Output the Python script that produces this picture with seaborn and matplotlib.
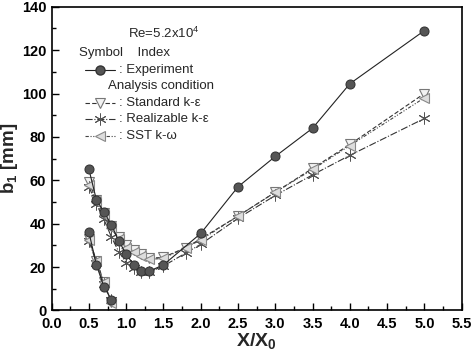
# b1 vs X/X0: experiment vs three turbulence models
import numpy as np
import pandas as pd
import seaborn as sns
import matplotlib.pyplot as plt
from matplotlib.lines import Line2D
from matplotlib.ticker import MultipleLocator

# experiment, upper (main) branch and lower (short) branch
x_exp_main = [0.5, 0.6, 0.7, 0.8, 0.9, 1.0, 1.1, 1.2, 1.3, 1.5, 2.0, 2.5, 3.0, 3.5, 4.0, 5.0]
exp_main = [65, 51, 45.5, 39.5, 32, 26, 21, 18, 18, 21, 35.5, 57, 71, 84, 104.5, 129]
x_exp_low = [0.5, 0.6, 0.7, 0.8]
exp_low = [36, 21, 11, 5]

# simulations
x_sim_main = [0.5, 0.6, 0.7, 0.8, 0.9, 1.0, 1.1, 1.2, 1.3, 1.5, 1.8, 2.0, 2.5, 3.0, 3.5, 4.0, 5.0]
standard_main = [59, 51, 45, 39, 34, 30, 28, 26, 24, 24.5, 29, 33, 43.5, 54.5, 65.5, 76.5, 100]
realizable_main = [57, 49, 42, 34, 27, 22, 19.5, 17.5, 17.5, 20.5, 26.5, 30.5, 42.5, 53, 62.5, 71.5, 88.5]
sst_main = [58, 50, 44, 38, 33, 29, 27, 25, 23.5, 24, 29, 32.5, 43.5, 54.5, 65, 76, 98]
x_sim_low = [0.5, 0.6, 0.7, 0.8]
standard_low = [33, 23, 13, 4]
realizable_low = [32, 22, 12, 5]
sst_low = [32.5, 23, 13, 3.5]

x_ticks = np.arange(0, 5.51, 0.5)
y_ticks = np.arange(0, 141, 20)

sns.set_style("ticks")
plt.rcParams['font.family'] = ['Liberation Sans', 'DejaVu Sans']
plt.rcParams['mathtext.fontset'] = 'custom'
plt.rcParams['mathtext.rm'] = 'Liberation Sans'
plt.rcParams['mathtext.it'] = 'Liberation Sans:italic'
plt.rcParams['mathtext.bf'] = 'Liberation Sans:bold'

fig = plt.figure(figsize=(4.72, 3.56), dpi=100)
ax = fig.add_axes([0.1095, 0.128, 0.8685, 0.853])

styles = {
    'exp': dict(color='#222222', linestyle='-', linewidth=0.8, marker='o', markersize=6.5,
                markerfacecolor='#555555', markeredgecolor='#333333'),
    'std': dict(color='#333333', linestyle=(0, (4, 2)), linewidth=0.8, marker='v', markersize=7.5,
                markerfacecolor='#f2f2f2', markeredgecolor='#777777', markeredgewidth=0.8),
    'rea': dict(color='#333333', linestyle='-.', linewidth=0.8, marker=(6, 2, 0), markersize=8.5,
                markeredgecolor='#555555', markeredgewidth=0.7),
    'sst': dict(color='#444444', linestyle=(0, (3, 1.5, 1, 1.5, 1, 1.5)), linewidth=0.8, marker='<',
                markersize=7.5, markerfacecolor='#dddddd', markeredgecolor='#888888', markeredgewidth=0.8),
}

series = [
    ('std', x_sim_main, standard_main), ('std', x_sim_low, standard_low),
    ('rea', x_sim_main, realizable_main), ('rea', x_sim_low, realizable_low),
    ('sst', x_sim_main, sst_main), ('sst', x_sim_low, sst_low),
    ('exp', x_exp_main, exp_main), ('exp', x_exp_low, exp_low),
]
for key, xs, ys in series:
    df = pd.DataFrame({'x': xs, 'y': ys})
    sns.lineplot(data=df, x='x', y='y', sort=False, estimator=None, ax=ax, **styles[key])

ax.set_xlim(0, 5.5)
ax.set_ylim(0, 140)
ax.set_xticks(x_ticks)
ax.set_xticklabels([f'{v:.1f}' for v in x_ticks], fontweight='bold')
ax.set_yticks(y_ticks)
ax.set_yticklabels([f'{v:d}' for v in y_ticks], fontweight='bold')
ax.xaxis.set_minor_locator(MultipleLocator(0.25))
ax.yaxis.set_minor_locator(MultipleLocator(10))
ax.tick_params(which='both', direction='in', top=False, right=False, width=1, colors='black')
ax.tick_params(which='major', length=5, labelsize=10.5)
ax.tick_params(axis='x', which='major', pad=5)
ax.tick_params(axis='y', which='major', pad=4)
ax.tick_params(which='minor', length=3)
for sp in ax.spines.values():
    sp.set_linewidth(1.2)
    sp.set_color('black')

ax.set_xlabel(r'$\mathbf{X/X_0}$', fontsize=14, labelpad=0)
ax.set_ylabel(r'$\mathbf{b_1}$ [mm]', fontsize=13.5, fontweight='bold', labelpad=1)

# legend block
fs = 9.5
ax.text(0.186, 0.913, r'Re=5.2x10$^4$', transform=ax.transAxes, fontsize=fs, va='center')
ax.text(0.067, 0.848, 'Symbol    Index', transform=ax.transAxes, fontsize=fs, va='center')
ax.text(0.138, 0.739, 'Analysis condition', transform=ax.transAxes, fontsize=fs, va='center')
entries = [('exp', 0.792, ': Experiment'), ('std', 0.683, ': Standard k-ε'),
           ('rea', 0.630, ': Realizable k-ε'), ('sst', 0.574, ': SST k-ω')]
for key, yy, label in entries:
    st = dict(styles[key])
    st['markevery'] = [1]
    ln = Line2D([0.081, 0.118, 0.155], [yy, yy, yy], transform=ax.transAxes, **st)
    ax.add_line(ln)
    ax.text(0.165, yy, label, transform=ax.transAxes, fontsize=fs, va='center')

fig.savefig('out.png', dpi=100)
